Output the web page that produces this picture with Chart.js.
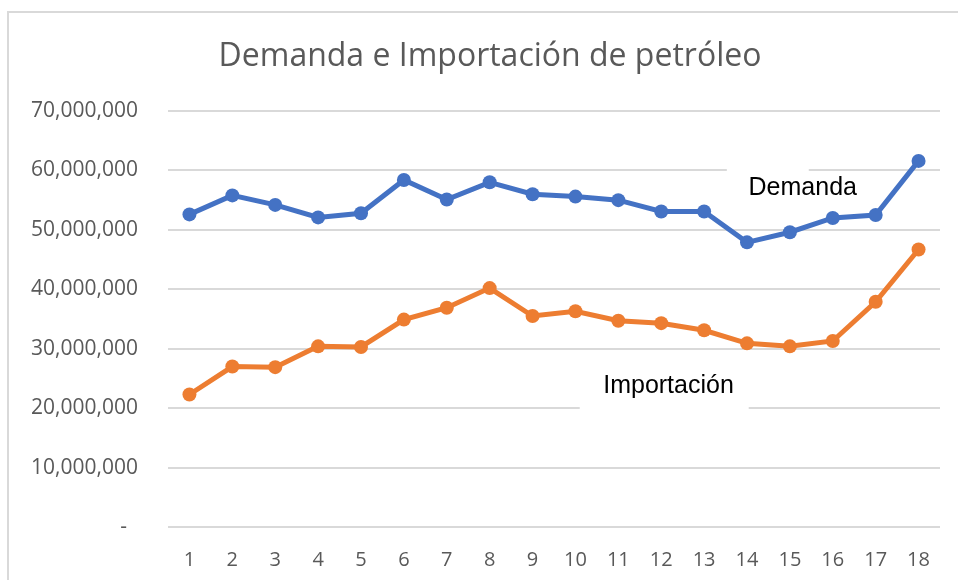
<!DOCTYPE html>
<html lang="es">
<head>
<meta charset="utf-8">
<title>Demanda e Importación de petróleo</title>
<script src="https://cdn.jsdelivr.net/npm/chart.js@4.4.1/dist/chart.umd.min.js"></script>
<style>
  html, body { margin: 0; padding: 0; background: #ffffff; }
  #wrap { position: relative; width: 958px; height: 580px; overflow: hidden; }
  #frame {
    position: absolute; left: 7px; top: 11px; width: 1000px; height: 700px;
    border-top: 2px solid #d9d9d9; border-left: 2px solid #d9d9d9;
  }
  #chart { position: absolute; left: 0; top: 0; }
</style>
</head>
<body>
<div id="wrap">
  <div id="frame"></div>
  <canvas id="chart" width="958" height="580"></canvas>
</div>
<script>
  // Year index on the x axis
  const categories = ['1', '2', '3', '4', '5', '6', '7', '8', '9', '10', '11', '12', '13', '14', '15', '16', '17', '18'];
  // Values
  const demanda = [52600000, 55800000, 54200000, 52100000, 52800000, 58400000, 55100000, 58000000, 56000000,
    55600000, 55000000, 53100000, 53100000, 47900000, 49600000, 52000000, 52500000, 61600000];
  const importacion = [22300000, 27000000, 26900000, 30400000, 30300000, 34900000, 36900000, 40200000, 35500000,
    36300000, 34700000, 34300000, 33100000, 30900000, 30400000, 31300000, 37900000, 46700000];
  const yTicks = [0, 10000000, 20000000, 30000000, 40000000, 50000000, 60000000, 70000000];

  const TITLE = 'Demanda e Importación de petróleo';
  const BLUE = '#4472c4';
  const ORANGE = '#ed7d31';
  const GREY = '#595959';
  const GRID = '#d9d9d9';

  // Series name callouts, placed in data units (index, value), with a white box behind
  const callouts = [
    { text: 'Demanda', x: 14.3, y: 57100000, boxFrom: 12.53, boxTo: 14.44, boxY: 60000000 },
    { text: 'Importación', x: 11.17, y: 23700000, boxFrom: 9.1, boxTo: 13.04, boxY: 20000000 }
  ];

  const calloutPlugin = {
    id: 'callouts',
    beforeDatasetsDraw(chart) {
      const { ctx, scales } = chart;
      ctx.save();
      ctx.fillStyle = '#ffffff';
      callouts.forEach(c => {
        const x0 = scales.x.getPixelForValue(c.boxFrom);
        const x1 = scales.x.getPixelForValue(c.boxTo);
        const yy = scales.y.getPixelForValue(c.boxY);
        ctx.fillRect(x0, yy - 4, x1 - x0, 8);
      });
      ctx.restore();
    },
    afterDatasetsDraw(chart) {
      const { ctx, scales } = chart;
      ctx.save();
      ctx.font = '25px "Liberation Sans", Arial, sans-serif';
      ctx.fillStyle = '#000000';
      ctx.textAlign = 'center';
      ctx.textBaseline = 'middle';
      callouts.forEach(c => {
        ctx.fillText(c.text, scales.x.getPixelForValue(c.x), scales.y.getPixelForValue(c.y));
      });
      ctx.restore();
    }
  };

  // Excel centres the title a bit right of the canvas centre, so it is drawn here
  const titlePlugin = {
    id: 'excelTitle',
    afterDraw(chart) {
      const { ctx } = chart;
      ctx.save();
      ctx.font = '32px "Open Sans", sans-serif';
      ctx.fillStyle = GREY;
      ctx.textAlign = 'center';
      ctx.textBaseline = 'middle';
      ctx.fillText(TITLE, chart.width / 2 + 11, 57);
      ctx.restore();
    }
  };

  function lineSet(label, data, color) {
    return {
      label: label,
      data: data,
      borderColor: color,
      backgroundColor: color,
      borderWidth: 5,
      pointRadius: 7,
      pointHoverRadius: 7,
      pointBorderWidth: 0,
      tension: 0
    };
  }

  new Chart(document.getElementById('chart'), {
    type: 'line',
    data: {
      labels: categories,
      datasets: [
        lineSet('Demanda', demanda, BLUE),
        lineSet('Importación', importacion, ORANGE)
      ]
    },
    options: {
      responsive: false,
      animation: false,
      events: [],
      layout: { padding: { left: 0, right: 18, top: 111, bottom: 0 } },
      plugins: {
        legend: { display: false },
        tooltip: { enabled: false },
        title: { display: false }
      },
      scales: {
        x: {
          offset: true,
          afterFit(scale) { scale.height = 53; },
          grid: { display: false, drawTicks: false },
          border: { display: false },
          ticks: {
            color: GREY,
            padding: 21,
            font: { family: '"Open Sans", sans-serif', size: 20 }
          }
        },
        y: {
          min: 0,
          max: 70000000,
          afterFit(scale) { scale.width = 168; },
          afterBuildTicks(scale) { scale.ticks = yTicks.map(v => ({ value: v })); },
          grid: { color: GRID, lineWidth: 2, drawTicks: false },
          border: { display: false },
          ticks: {
            color: GREY,
            padding: 30,
            font: { family: '"Open Sans", sans-serif', size: 21 },
            callback: v => v === 0 ? '-  ' : v.toLocaleString('en-US')
          }
        }
      }
    },
    plugins: [calloutPlugin, titlePlugin]
  });
</script>
</body>
</html>
